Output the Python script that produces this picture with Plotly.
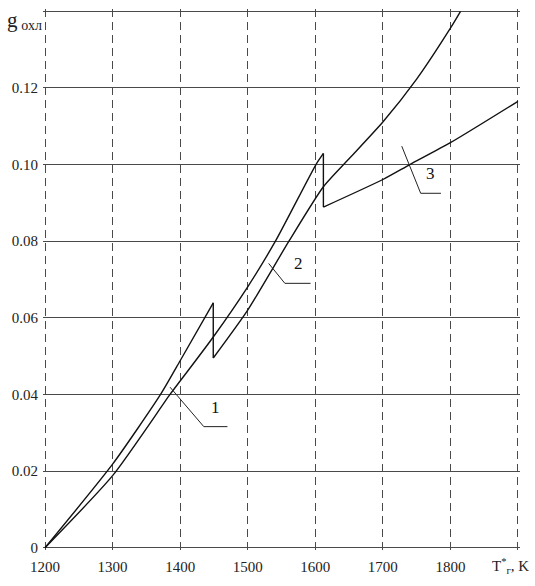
import plotly.graph_objects as go

# Curve (upper-left branch, jump at ~1449 K)
p_T = [1200, 1300, 1371, 1400, 1449, 1449, 1500, 1561, 1612, 1650, 1700, 1750, 1800, 1815]
p_g = [0.0, 0.0218, 0.040, 0.0488, 0.0639, 0.0495, 0.062, 0.080, 0.0942, 0.1015, 0.1111, 0.1223, 0.1356, 0.140]

# Second curve (lower-left branch, jump at ~1612 K)
q_T = [1200, 1300, 1385, 1400, 1449, 1500, 1541, 1601, 1612, 1612, 1700, 1740, 1800, 1900]
q_g = [0.0, 0.0188, 0.040, 0.0435, 0.055, 0.0681, 0.080, 0.100, 0.1029, 0.0889, 0.0961, 0.100, 0.1057, 0.1165]

# Curve labels and their leader lines (data space)
label_text = ["1", "2", "3"]
label_T = [1452, 1575, 1771]
label_g = [0.0336, 0.0711, 0.0946]
leader_T = [[1385, 1435, 1470], [1531, 1555, 1593], [1728, 1756, 1786]]
leader_g = [[0.0419, 0.0316, 0.0316], [0.0742, 0.0690, 0.0690], [0.1048, 0.0925, 0.0925]]

x_tickvals = [1200, 1300, 1400, 1500, 1600, 1700, 1800, 1900]
x_ticktext = ["1200", "1300", "1400", "1500", "1600", "1700", "1800", " "]
y_tickvals = [0, 0.02, 0.04, 0.06, 0.08, 0.10, 0.12, 0.14]
y_ticktext = ["0", "0.02", "0.04", "0.06", "0.08", "0.10", "0.12", " "]
x_title = "T<sup>*</sup><sub>г</sub>, K"
y_title = "<span style='font-size:21px'>g</span> <sub><span style='font-size:14px'>охл</span></sub>"

FONT = "Liberation Serif"
GRID = "#4a4a4a"
LINE = dict(color="#111", width=1.4)


def pieces(xs, ys):
    """Split a curve at its vertical jumps (repeated x)."""
    smooth, jumps, start = [], [], 0
    for i in range(1, len(xs)):
        if xs[i] == xs[i - 1]:
            smooth.append((xs[start:i], ys[start:i]))
            jumps.append((xs[i - 1:i + 1], ys[i - 1:i + 1]))
            start = i
    smooth.append((xs[start:], ys[start:]))
    return smooth, jumps


fig = go.Figure()
for xs, ys in ((p_T, p_g), (q_T, q_g)):
    smooth, jumps = pieces(xs, ys)
    for sx, sy in smooth:
        fig.add_trace(go.Scatter(x=sx, y=sy, mode="lines", line=dict(**LINE, shape="spline", smoothing=0.6),
                                 showlegend=False, hoverinfo="skip"))
    for jx, jy in jumps:
        fig.add_trace(go.Scatter(x=jx, y=jy, mode="lines", line=LINE,
                                 showlegend=False, hoverinfo="skip"))

for lt, lg in zip(leader_T, leader_g):
    fig.add_trace(go.Scatter(x=lt, y=lg, mode="lines",
                             line=dict(color="#222", width=1), showlegend=False, hoverinfo="skip"))
for t, xx, yy in zip(label_text, label_T, label_g):
    fig.add_annotation(x=xx, y=yy, text=t, showarrow=False, yanchor="bottom",
                       font=dict(family=FONT, size=17, color="#111"))

# axis names placed where the last tick labels would be
fig.add_annotation(x=x_tickvals[-1], xref="x", y=0, yref="paper", text=x_title, showarrow=False,
                   xanchor="right", yanchor="top", xshift=13, yshift=-4,
                   font=dict(family=FONT, size=15, color="#222"))
fig.add_annotation(x=0, xref="paper", y=y_tickvals[-1], yref="y", text=y_title, showarrow=False,
                   xanchor="right", yanchor="middle", xshift=1, yshift=-9,
                   font=dict(family=FONT, size=15, color="#222"))

fig.update_layout(
    width=535, height=586,
    margin=dict(l=43, r=15, t=9, b=36),
    paper_bgcolor="white", plot_bgcolor="white",
    font=dict(family=FONT, size=15, color="#222"),
    xaxis=dict(range=[1197, 1903], tickvals=x_tickvals, ticktext=x_ticktext,
               showgrid=True, gridcolor=GRID, gridwidth=1.2, griddash="8px,5px",
               zeroline=False, showline=False, ticks="", ticklabelstandoff=6,
               ticklabeloverflow="allow", automargin=False),
    yaxis=dict(range=[-0.0006, 0.1406], tickvals=y_tickvals, ticktext=y_ticktext,
               showgrid=True, gridcolor=GRID, gridwidth=1.3,
               zeroline=False, showline=False, ticks="", ticklabelstandoff=4,
               ticklabeloverflow="allow", automargin=False),
)

fig.write_html("out.html", config={"displayModeBar": False},
               post_script="document.body.style.margin='0';")
